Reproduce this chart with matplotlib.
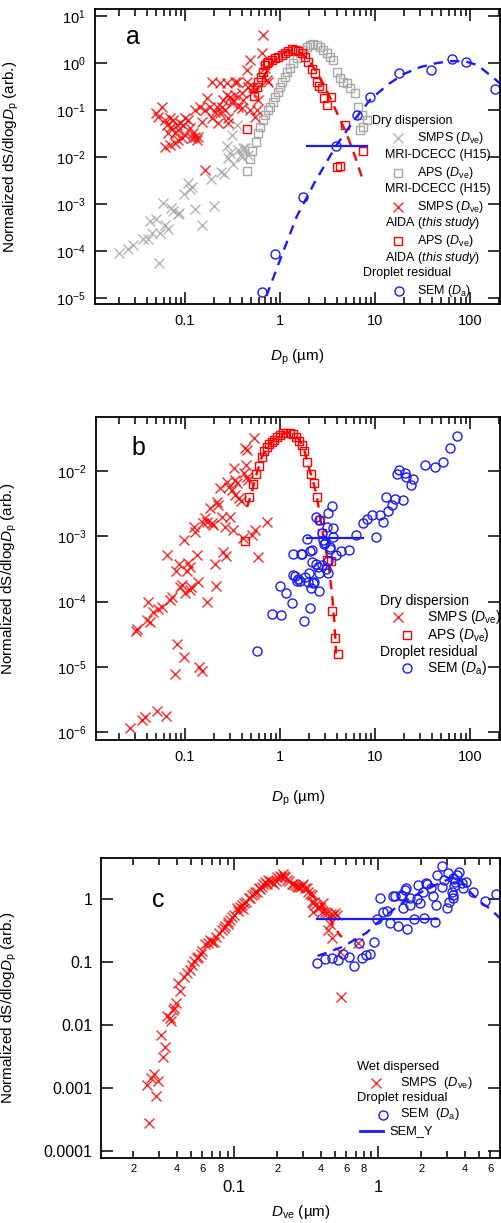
import numpy as np
import matplotlib
matplotlib.use('Agg')
import matplotlib.pyplot as plt
from matplotlib.ticker import LogLocator, FixedLocator, FuncFormatter, NullLocator

plt.rcParams['font.family'] = ['Liberation Sans', 'DejaVu Sans']
plt.rcParams['mathtext.fontset'] = 'custom'
plt.rcParams['mathtext.rm'] = 'Liberation Sans'
plt.rcParams['mathtext.it'] = 'Liberation Sans:italic'
plt.rcParams['mathtext.bf'] = 'Liberation Sans:bold'

RED = '#ff0000'
GRAY = '#a8a8a8'
BLUE = '#1a1aff'

# ---------------- panel a: dry dispersion + droplet residual ----------------
# SMPS, AIDA (this study)
a_smps_dp = [0.050, 0.057, 0.052, 0.061, 0.070, 0.075, 0.064, 0.072, 0.082, 0.089,
             0.100, 0.096, 0.108, 0.085, 0.079, 0.067, 0.113, 0.122, 0.127, 0.118,
             0.133, 0.138, 0.100, 0.062, 0.070, 0.079, 0.085, 0.092, 0.127, 0.144,
             0.150, 0.163, 0.169, 0.183, 0.191, 0.207, 0.215, 0.224, 0.233, 0.243,
             0.253, 0.264, 0.275, 0.286, 0.298, 0.310, 0.323, 0.336, 0.350, 0.395,
             0.411, 0.446, 0.446, 0.483, 0.503, 0.524, 0.546, 0.592, 0.641, 0.668,
             0.695, 0.724, 0.754, 0.191, 0.233, 0.275, 0.336, 0.395, 0.483, 0.568,
             0.464, 0.364, 0.286, 0.163]
a_smps_s = [0.085, 0.118, 0.072, 0.061, 0.066, 0.061, 0.048, 0.044, 0.048, 0.052,
            0.066, 0.048, 0.061, 0.037, 0.032, 0.032, 0.041, 0.032, 0.027, 0.025,
            0.023, 0.027, 0.029, 0.0166, 0.018, 0.0195, 0.023, 0.025, 0.100, 0.118,
            0.056, 0.100, 0.177, 0.118, 0.066, 0.092, 0.118, 0.052, 0.085, 0.118,
            0.163, 0.100, 0.209, 0.066, 0.192, 0.139, 0.163, 0.209, 0.401, 0.226,
            0.163, 0.401, 0.71, 1.16, 0.245, 0.313, 0.072, 0.163, 1.61, 3.94,
            0.77, 0.435, 0.401, 0.401, 0.369, 0.369, 0.401, 0.108, 0.100, 0.100,
            0.313, 0.118, 0.052, 0.0053]

# APS, AIDA (this study)
a_aps_dp = [0.446, 0.537, 0.568, 0.592, 0.626, 0.668, 0.695, 0.724, 0.754, 0.817,
            0.886, 0.945, 1.04, 1.13, 1.22, 1.33, 1.44, 1.56, 1.69, 1.83,
            1.99, 2.15, 2.33, 2.43, 2.57, 2.75, 2.93, 3.10, 3.44, 4.83,
            3.95, 4.28, 7.53]
a_aps_s = [0.0388, 0.199, 0.304, 0.401, 0.512, 0.654, 0.906, 0.98, 1.07, 1.16,
           1.26, 1.36, 1.48, 1.66, 1.83, 1.95, 1.89, 1.83, 1.61, 1.36,
           1.07, 0.73, 0.60, 0.40, 0.324, 0.289, 0.177, 0.128, 0.186, 0.048,
           0.0060, 0.0064, 0.0136]

# APS, MRI-DCECC (H15)
h15_aps_dp = [0.446, 0.483, 0.511, 0.555, 0.582, 0.616, 0.668, 0.695, 0.741, 0.785,
              0.851, 0.886, 0.945, 1.00, 1.06, 1.13, 1.20, 1.27, 1.38, 1.50,
              1.62, 1.76, 1.91, 2.07, 2.24, 2.43, 2.64, 2.86, 3.10, 3.36,
              3.64, 3.95, 4.28, 4.64, 5.03, 5.45, 6.16, 6.68, 7.24, 6.95,
              7.53, 8.17]
h15_aps_s = [0.0051, 0.0091, 0.0136, 0.021, 0.032, 0.044, 0.061, 0.078, 0.100, 0.118,
             0.150, 0.192, 0.245, 0.313, 0.40, 0.51, 0.65, 0.77, 0.98, 1.26,
             1.61, 1.89, 2.23, 2.41, 2.54, 2.41, 2.15, 1.89, 1.61, 1.36,
             1.16, 0.65, 0.47, 0.40, 0.37, 0.29, 0.23, 0.118, 0.078, 0.037,
             0.044, 0.061]

# SMPS, MRI-DCECC (H15)
h15_smps_dp = [0.0202, 0.0249, 0.0286, 0.0364, 0.0404, 0.0453, 0.0428, 0.0491, 0.0546, 0.0537,
               0.0616, 0.0657, 0.0591, 0.0713, 0.0754, 0.0838, 0.0865, 0.0984, 0.107, 0.113,
               0.119, 0.129, 0.152, 0.188, 0.204, 0.239, 0.259, 0.275, 0.281, 0.323,
               0.358, 0.388, 0.411, 0.350, 0.310, 0.298, 0.395, 0.464, 0.428]
h15_smps_s = [9.2e-5, 1.08e-4, 1.34e-4, 1.77e-4, 1.83e-4, 2.45e-4, 4.4e-4, 4.7e-4, 2.45e-4, 5.6e-5,
              3.6e-4, 3.0e-4, 1.07e-3, 8.1e-4, 7.2e-4, 6.1e-4, 6.5e-4, 1.63e-3, 2.85e-3, 2.05e-3,
              2.34e-3, 7.7e-4, 3.6e-4, 3.35e-3, 9.0e-4, 4.9e-3, 4.3e-3, 0.0171, 9.4e-3, 7.1e-3,
              0.0141, 0.0110, 0.0155, 0.048, 0.029, 0.012, 0.0102, 0.011, 0.0153]

# SEM droplet residual
a_sem_dp = [0.641, 0.886, 1.76, 3.88, 6.41, 8.86, 17.9, 38.5, 65.1, 90.7, 183]
a_sem_s = [1.32e-5, 8.6e-5, 1.43e-3, 0.0174, 0.078, 0.192, 0.62, 0.71, 1.24, 1.07, 0.28]

# fitted curves
a_fit_red_dp = [0.55, 0.7, 0.9, 1.15, 1.4, 1.7, 2.1, 2.6, 3.2, 4.0, 5.0, 6.0, 7.3]
a_fit_red_s = [0.22, 0.6, 1.2, 1.75, 1.9, 1.6, 1.0, 0.5, 0.23, 0.085, 0.032, 0.012, 0.0037]
a_fit_blue_dp = [0.72, 1.0, 1.5, 2.3, 3.9, 6.0, 9.0, 14, 20, 30, 45, 65, 90, 120, 180, 230]
a_fit_blue_s = [1.1e-5, 6.4e-5, 5.4e-4, 2.8e-3, 0.0174, 0.06, 0.17, 0.36, 0.58, 0.82,
                1.0, 1.1, 1.08, 0.9, 0.47, 0.3]
a_sem_y_dp = [1.91, 8.17]
a_sem_y = 0.0174

# ---------------- panel b ----------------
b_smps_dp = [0.532, 0.428, 0.453, 0.439, 0.328, 0.418, 0.464, 0.275, 0.336, 0.355,
             0.233, 0.293, 0.310, 0.336, 0.373, 0.385, 0.446, 0.215, 0.224, 0.183,
             0.298, 0.243, 0.163, 0.172, 0.156, 0.191, 0.195, 0.124, 0.127, 0.264,
             0.323, 0.724, 0.546, 0.503, 0.411, 0.0976, 0.133, 0.253, 0.270, 0.0652,
             0.0871, 0.0804, 0.108, 0.113, 0.104, 0.207, 0.592, 0.0922, 0.117, 0.138,
             0.212, 0.113, 0.100, 0.0886, 0.0724, 0.0695, 0.0568, 0.0524, 0.0464, 0.0411,
             0.0395, 0.0428, 0.0315, 0.0305, 0.169, 0.083, 0.0976, 0.0785, 0.1416, 0.150,
             0.0512, 0.063, 0.0379, 0.035, 0.0264]
b_smps_s = [0.0316, 0.0222, 0.021, 0.0124, 0.011, 9.2e-3, 7.3e-3, 6.9e-3, 7.3e-3, 6.5e-3,
            5.4e-3, 5.75e-3, 5.1e-3, 4.3e-3, 3.8e-3, 3.5e-3, 8.2e-3, 3.3e-3, 3.0e-3, 2.7e-3,
            2.0e-3, 2.0e-3, 1.88e-3, 1.67e-3, 1.58e-3, 1.58e-3, 1.49e-3, 1.41e-3, 1.18e-3, 1.41e-3,
            1.25e-3, 1.67e-3, 1.25e-3, 1.05e-3, 9.3e-4, 8.8e-4, 5.2e-4, 5.8e-4, 5.0e-4, 5.2e-4,
            3.8e-4, 2.9e-4, 3.9e-4, 3.4e-4, 2.9e-4, 3.8e-4, 4.9e-4, 1.8e-4, 1.7e-4, 2.0e-4,
            1.75e-4, 1.5e-4, 1.34e-4, 1.66e-4, 1.16e-4, 1.06e-4, 8.4e-5, 7.6e-5, 7.0e-5, 1.0e-4,
            5.2e-5, 4.9e-5, 3.8e-5, 3.5e-5, 1.0e-4, 2.24e-5, 1.4e-5, 7.9e-6, 1.0e-5, 8.7e-6,
            2.14e-6, 1.77e-6, 1.69e-6, 1.54e-6, 1.15e-6]

b_aps_dp = [0.428, 0.475, 0.515, 0.559, 0.605, 0.641, 0.679, 0.724, 0.773, 0.817,
            0.865, 0.923, 1.00, 1.07, 1.16, 1.27, 1.36, 1.47, 1.60, 1.69,
            1.79, 1.94, 2.10, 2.28, 2.47, 2.64, 2.79, 3.10, 3.41, 3.50,
            3.79, 4.05]
b_aps_s = [8.6e-4, 4.04e-3, 6.3e-3, 8.9e-3, 0.0119, 0.0162, 0.0205, 0.0236, 0.0259, 0.0281,
           0.0298, 0.0328, 0.0356, 0.0377, 0.0386, 0.0386, 0.0368, 0.0335, 0.0291, 0.025,
           0.0205, 0.0139, 9.0e-3, 6.5e-3, 3.95e-3, 1.78e-3, 1.11e-3, 4.34e-4, 4.23e-4, 7.3e-5,
           2.74e-5, 1.58e-5]

b_sem_dp = [72.4, 61.6, 52.4, 42.8, 33.6, 25.3, 23.7, 21.2, 20.7, 18.0,
            16.9, 19.9, 16.2, 15.0, 13.8, 13.1, 11.3, 9.23, 8.17, 7.41,
            12.2, 10.2, 6.31, 5.37, 4.35, 3.88, 3.64, 3.64, 3.50, 3.23,
            3.36, 3.23, 2.98, 2.81, 2.59, 2.39, 2.07, 1.94, 2.39, 2.53,
            1.69, 1.36, 1.38, 1.56, 1.83, 2.15, 3.15, 2.75, 2.90, 3.36,
            2.15, 1.65, 2.75, 3.05, 2.59, 3.23, 2.04, 1.44, 1.62, 2.28,
            1.00, 1.50, 1.99, 2.24, 2.59, 1.16, 1.33, 2.10, 0.817, 1.02,
            1.79, 2.07, 0.568]
b_sem_s = [0.0344, 0.0222, 0.0139, 0.0114, 0.0124, 7.5e-3, 6.1e-3, 8.2e-3, 9.4e-3, 0.0104,
           9.0e-3, 3.6e-3, 3.7e-3, 3.0e-3, 2.47e-3, 4.0e-3, 2.1e-3, 2.1e-3, 1.82e-3, 1.58e-3,
           1.67e-3, 9.6e-4, 1.05e-3, 6.2e-4, 6.0e-4, 5.2e-4, 9.9e-4, 1.32e-3, 2.9e-3, 2.3e-3,
           6.5e-4, 4.2e-4, 7.8e-4, 8.8e-4, 1.78e-3, 2.0e-3, 6.0e-4, 9.0e-4, 3.8e-4, 3.4e-4,
           5.4e-4, 5.4e-4, 2.55e-4, 2.19e-4, 2.4e-4, 4.1e-4, 1.41e-3, 1.11e-3, 7.6e-4, 6.9e-4,
           6.2e-4, 5.4e-4, 3.6e-4, 3.2e-4, 2.7e-4, 2.7e-4, 2.7e-4, 2.47e-4, 2.1e-4, 2.0e-4,
           1.73e-4, 2.1e-4, 2.0e-4, 1.9e-4, 1.47e-4, 1.37e-4, 9.6e-5, 1.6e-4, 6.5e-5, 6.2e-5,
           5.1e-5, 7.9e-5, 1.77e-5]

b_fit_red_dp = [0.45, 0.5, 0.56, 0.64, 0.75, 0.9, 1.05, 1.2, 1.4, 1.6,
                1.8, 2.0, 2.2, 2.45, 2.7, 3.0, 3.3, 3.55, 3.75, 3.9]
b_fit_red_s = [2.8e-3, 4.5e-3, 8.5e-3, 0.016, 0.025, 0.032, 0.037, 0.039, 0.037, 0.030,
               0.021, 0.0115, 7.5e-3, 4.0e-3, 1.6e-3, 7e-4, 3.0e-4, 1.2e-4, 4.5e-5, 1.6e-5]
b_sem_y_dp = [1.91, 7.53]
b_sem_y = 9.3e-4

# ---------------- panel c: wet dispersed ----------------
c_smps_dve = [0.0258, 0.0248, 0.0264, 0.0278, 0.0298, 0.0287, 0.031, 0.0332, 0.032, 0.034,
              0.0356, 0.0363, 0.0383, 0.0395, 0.0375, 0.0422, 0.041, 0.0469, 0.0495, 0.0527,
              0.0565, 0.0587, 0.063, 0.0664, 0.070, 0.075, 0.079, 0.082, 0.0866, 0.0914,
              0.0964, 0.1045, 0.110, 0.116, 0.121, 0.126, 0.133, 0.140, 0.148, 0.156,
              0.164, 0.173, 0.183, 0.190, 0.209, 0.218, 0.226, 0.234, 0.251, 0.265,
              0.280, 0.295, 0.311, 0.328, 0.346, 0.346, 0.365, 0.351, 0.385, 0.417,
              0.406, 0.441, 0.484, 0.503, 0.452, 0.476, 0.551, 0.545, 0.730,
              0.045, 0.051, 0.055, 0.060, 0.068, 0.072, 0.085, 0.090, 0.094, 0.100,
              0.107, 0.113, 0.118, 0.130, 0.137, 0.145, 0.152, 0.160, 0.168, 0.178,
              0.195, 0.200, 0.213, 0.222, 0.240, 0.258, 0.272, 0.288, 0.300, 0.320,
              0.335, 0.360, 0.395, 0.430, 0.470, 0.520, 0.465]
c_smps_s = [2.8e-4, 1.12e-3, 1.42e-3, 1.67e-3, 1.3e-3, 7.5e-4, 6.9e-3, 4.5e-3, 3.1e-3, 0.0139,
            0.0128, 0.0117, 0.0184, 0.0226, 0.0173, 0.0347, 0.0458, 0.0661, 0.0746, 0.104,
            0.122, 0.132, 0.19, 0.198, 0.205, 0.252, 0.285, 0.322, 0.377, 0.437,
            0.525, 0.711, 0.755, 0.694, 0.907, 1.03, 1.16, 1.31, 1.48, 1.57,
            1.88, 2.0, 1.84, 1.71, 2.35, 2.46, 2.26, 2.0, 1.71, 1.67,
            1.57, 1.63, 1.48, 1.31, 1.16, 0.907, 0.80, 0.63, 0.711, 0.853,
            0.63, 0.592, 0.557, 0.592, 0.322, 0.238, 0.0282, 0.146, 0.198,
            0.058, 0.088, 0.115, 0.15, 0.22, 0.21, 0.35, 0.40, 0.47, 0.56,
            0.64, 0.80, 0.85, 1.05, 1.2, 1.3, 1.45, 1.7, 1.75, 1.95,
            1.95, 2.2, 2.2, 2.3, 1.9, 1.75, 1.6, 1.55, 1.7, 1.5,
            1.2, 0.9, 0.75, 0.62, 0.58, 0.55, 0.4]

c_sem_da = [0.379, 0.428, 0.477, 0.531, 0.574, 0.632, 0.681, 0.770, 0.826, 0.880,
            0.938, 0.742, 1.03, 0.99, 1.09, 1.15, 1.22, 1.38, 1.58, 1.31,
            1.44, 1.54, 1.67, 1.79, 2.09, 2.49, 1.48, 1.86, 1.90, 2.04,
            2.20, 2.32, 2.40, 2.53, 2.58, 2.77, 2.87, 2.80, 3.00, 3.13,
            3.30, 3.37, 3.56, 3.67, 3.87, 4.08, 4.59, 5.53, 6.59, 1.28,
            1.46, 1.56, 2.15, 3.08, 3.34, 1.67, 1.96, 3.34, 3.81, 3.25,
            3.35, 3.45]
c_sem_s = [0.0953, 0.112, 0.117, 0.108, 0.132, 0.122, 0.0875, 0.117, 0.129, 0.132,
           0.205, 0.198, 1.03, 0.482, 0.63, 0.646, 0.411, 0.377, 0.334, 1.13,
           1.16, 1.39, 1.05, 0.482, 0.506, 0.426, 0.728, 1.0, 1.67, 1.28,
           1.71, 1.51, 1.13, 0.80, 2.40, 1.57, 2.00, 3.35, 0.728, 0.907,
           1.03, 2.08, 2.40, 2.65, 1.51, 1.88, 1.31, 0.93, 1.19, 1.12,
           1.12, 1.48, 1.82, 2.55, 2.13, 0.80, 0.853, 1.16, 1.77, 1.3,
           1.6, 1.85]

c_fit_red_dve = [0.33, 0.35, 0.38, 0.43, 0.48, 0.54, 0.56]
c_fit_red_s = [1.35, 1.15, 1.0, 0.68, 0.42, 0.27, 0.25]
c_fit_blue_da = [0.38, 0.46, 0.57, 0.83, 0.98, 1.16, 1.36, 1.65, 2.2, 2.85,
                 3.3, 3.6, 4.2, 5.1, 6.0, 7.0]
c_fit_blue_s = [0.125, 0.145, 0.175, 0.29, 0.41, 0.57, 0.76, 1.02, 1.45, 1.9,
                2.2, 2.3, 1.4, 0.9, 0.7, 0.5]
c_sem_y_da = [0.375, 2.56]
c_sem_y = 0.482

# ---------------- figure ----------------
fig = plt.figure(figsize=(5.02, 12.23), dpi=100)
ax_a = fig.add_axes([95 / 502, 1 - 304 / 1223, 405 / 502, 295 / 1223])
ax_b = fig.add_axes([96 / 502, 1 - 740 / 1223, 404 / 502, 323 / 1223])
ax_c = fig.add_axes([101 / 502, 1 - 1158 / 1223, 399 / 502, 300 / 1223])

xmark = dict(marker='x', ls='none', ms=6.5, mew=1.0, alpha=0.85)
sq = dict(marker='s', ls='none', ms=6, mew=1.0, mfc='none')
circ = dict(marker='o', ls='none', ms=6.5, mew=1.0, mfc='none', mec=BLUE)
dash = dict(ls=(0, (4, 3)), lw=1.7)

ylab = r'Normalized dS/dlog$\mathit{D}_\mathrm{p}$ (arb.)'
plain = FuncFormatter(lambda v, p: '%g' % v)


def style(ax):
    ax.set_xscale('log')
    ax.set_yscale('log')
    for s in ax.spines.values():
        s.set_linewidth(1.3)
    ax.tick_params(which='both', direction='in', top=True, right=True, width=1.1)
    ax.tick_params(which='major', length=8.5, labelsize=10.5, pad=7)
    ax.tick_params(which='minor', length=5)
    ax.yaxis.set_minor_locator(NullLocator())
    ax.set_ylabel(ylab, fontsize=11)
    ax.xaxis.label.set_va('center')


def leg_marker(ax, x, y, **kw):
    ax.plot([x], [y], transform=ax.transAxes, clip_on=False, **kw)


def leg_text(ax, x, y, s, size):
    ax.text(x, y, s, transform=ax.transAxes, fontsize=size, va='center', ha='left',
            clip_on=False)


# panel a
ax = ax_a
style(ax)
ax.plot(h15_smps_dp, h15_smps_s, color=GRAY, **xmark)
ax.plot(h15_aps_dp, h15_aps_s, mec=GRAY, **sq)
ax.plot(a_smps_dp, a_smps_s, color=RED, **xmark)
ax.plot(a_aps_dp, a_aps_s, mec=RED, **sq)
ax.plot(a_fit_red_dp, a_fit_red_s, color=RED, **dash)
ax.plot(a_fit_blue_dp, a_fit_blue_s, color=BLUE, **dash)
ax.plot(a_sem_dp, a_sem_s, **circ)
ax.plot(a_sem_y_dp, [a_sem_y, a_sem_y], color=BLUE, lw=1.6)
ax.set_xlim(0.0113, 207)
ax.set_ylim(7.45e-6, 14.1)
ax.xaxis.set_major_formatter(plain)
ax.yaxis.set_major_locator(LogLocator(base=10, numticks=20))
ax.set_xlabel(r'$\mathit{D}_\mathrm{p}$ (µm)', fontsize=11)
ax.xaxis.set_label_coords(0.5, -0.18)
ax.yaxis.set_label_coords(-0.183, 0.5)
ax.text(0.076, 0.905, 'a', transform=ax.transAxes, fontsize=18, va='center', ha='left')

fs = 9
leg_text(ax, 0.684, 0.620, 'Dry dispersion', fs)
leg_marker(ax, 0.748, 0.563, color=GRAY, **xmark)
leg_text(ax, 0.795, 0.563, r'SMPS ($\mathit{D}_\mathrm{ve}$)', fs)
leg_text(ax, 0.716, 0.505, 'MRI-DCECC (H15)', fs)
leg_marker(ax, 0.748, 0.444, mec=GRAY, **sq)
leg_text(ax, 0.795, 0.444, r'APS ($\mathit{D}_\mathrm{ve}$)', fs)
leg_text(ax, 0.716, 0.390, 'MRI-DCECC (H15)', fs)
leg_marker(ax, 0.748, 0.329, color=RED, **xmark)
leg_text(ax, 0.795, 0.329, r'SMPS ($\mathit{D}_\mathrm{ve}$)', fs)
leg_text(ax, 0.716, 0.275, r'AIDA ($\mathit{this\ study}$)', fs)
leg_marker(ax, 0.748, 0.214, mec=RED, **sq)
leg_text(ax, 0.795, 0.214, r'APS ($\mathit{D}_\mathrm{ve}$)', fs)
leg_text(ax, 0.716, 0.156, r'AIDA ($\mathit{this\ study}$)', fs)
leg_text(ax, 0.662, 0.105, 'Droplet residual', fs)
leg_marker(ax, 0.750, 0.044, **circ)
leg_text(ax, 0.795, 0.044, r'SEM ($\mathit{D}_\mathrm{a}$)', fs)

# panel b
ax = ax_b
style(ax)
ax.plot(b_smps_dp, b_smps_s, color=RED, **xmark)
ax.plot(b_fit_red_dp, b_fit_red_s, color=RED, **dash)
ax.plot(b_aps_dp, b_aps_s, mec=RED, **sq)
ax.plot(b_sem_dp, b_sem_s, **circ)
ax.plot(b_sem_y_dp, [b_sem_y, b_sem_y], color=BLUE, lw=1.6)
ax.set_xlim(0.01156, 207)
ax.set_ylim(7.6e-7, 0.0671)
ax.xaxis.set_major_formatter(plain)
ax.yaxis.set_major_locator(LogLocator(base=10, numticks=20))
ax.set_xlabel(r'$\mathit{D}_\mathrm{p}$ (µm)', fontsize=11)
ax.xaxis.set_label_coords(0.5, -0.18)
ax.yaxis.set_label_coords(-0.19, 0.5)
ax.text(0.087, 0.905, 'b', transform=ax.transAxes, fontsize=18, va='center', ha='left')

fs = 10
leg_text(ax, 0.703, 0.431, 'Dry dispersion', fs)
leg_marker(ax, 0.748, 0.380, color=RED, **xmark)
leg_text(ax, 0.819, 0.380, r'SMPS ($\mathit{D}_\mathrm{ve}$)', fs)
leg_marker(ax, 0.769, 0.325, mec=RED, **sq)
leg_text(ax, 0.819, 0.325, r'APS ($\mathit{D}_\mathrm{ve}$)', fs)
leg_text(ax, 0.703, 0.273, 'Droplet residual', fs)
leg_marker(ax, 0.769, 0.222, **circ)
leg_text(ax, 0.819, 0.222, r'SEM ($\mathit{D}_\mathrm{a}$)', fs)

# panel c
ax = ax_c
style(ax)
ax.plot(c_smps_dve, c_smps_s, color=RED, **xmark)
ax.plot(c_fit_red_dve, c_fit_red_s, color=RED, **dash)
ax.plot(c_fit_blue_da, c_fit_blue_s, color=BLUE, **dash)
ax.plot(c_sem_da, c_sem_s, **circ)
ax.plot(c_sem_y_da, [c_sem_y, c_sem_y], color=BLUE, lw=1.6)
ax.set_xlim(0.0119, 7.03)
ax.set_ylim(7.7e-5, 4.48)

ax.xaxis.set_major_locator(FixedLocator([0.01, 0.1, 1, 10]))
ax.xaxis.set_major_formatter(plain)
ax.xaxis.set_minor_locator(LogLocator(base=10, subs=np.arange(2, 10), numticks=20))


def minor_label(v, pos):
    m = int(round(v / 10 ** np.floor(np.log10(v) + 1e-9)))
    return str(m) if m in (2, 4, 6, 8) else ''


ax.xaxis.set_minor_formatter(FuncFormatter(minor_label))
ax.tick_params(axis='x', which='minor', labelsize=8, pad=4)
ax.tick_params(axis='x', which='major', labelsize=12, pad=16)
ax.tick_params(axis='y', which='major', labelsize=11.5, pad=6)
ax.yaxis.set_major_locator(FixedLocator([1e-4, 1e-3, 1e-2, 0.1, 1]))
ax.yaxis.set_major_formatter(FuncFormatter(lambda v, p: '%g' % v if v >= 1e-3 else '0.0001'))
ax.set_xlabel(r'$\mathit{D}_\mathrm{ve}$ (µm)', fontsize=11)
ax.xaxis.set_label_coords(0.5, -0.18)
ax.yaxis.set_label_coords(-0.206, 0.5)
ax.text(0.128, 0.86, 'c', transform=ax.transAxes, fontsize=18, va='center', ha='left')

fs = 9.3
leg_text(ax, 0.642, 0.304, 'Wet dispersed', fs)
leg_marker(ax, 0.689, 0.251, color=RED, **xmark)
leg_text(ax, 0.749, 0.251, r'SMPS  ($\mathit{D}_\mathrm{ve}$)', fs)
leg_text(ax, 0.642, 0.199, 'Droplet residual', fs)
leg_marker(ax, 0.708, 0.145, **circ)
leg_text(ax, 0.749, 0.145, r'SEM  ($\mathit{D}_\mathrm{a}$)', fs)
ax.plot([0.649, 0.707], [0.091, 0.091], transform=ax.transAxes, color=BLUE, lw=2,
        clip_on=False)
leg_text(ax, 0.724, 0.091, 'SEM_Y', fs)

fig.savefig('out.png', dpi=100)
